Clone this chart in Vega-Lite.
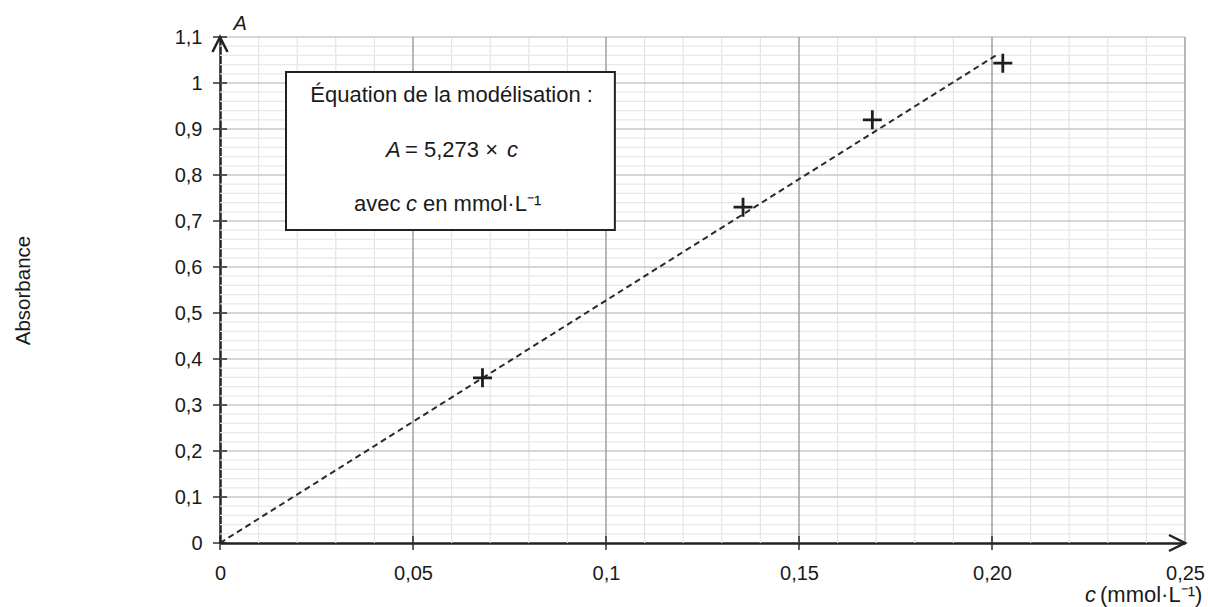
{
  "$schema": "https://vega.github.io/schema/vega-lite/v6.json",
  "width": 965,
  "height": 506,
  "autosize": {"type": "none"},
  "padding": {"left": 220, "top": 37, "right": 23, "bottom": 64},
  "background": "white",
  "config": {"view": {"stroke": null}, "font": "Liberation Sans"},
  "datasets": {
    "minorX": [{"c":0.01},{"c":0.02},{"c":0.03},{"c":0.04},{"c":0.06},{"c":0.07},{"c":0.08},{"c":0.09},{"c":0.11},{"c":0.12},{"c":0.13},{"c":0.14},{"c":0.16},{"c":0.17},{"c":0.18},{"c":0.19},{"c":0.21},{"c":0.22},{"c":0.23},{"c":0.24}],
    "minorY": [{"A":0.02},{"A":0.04},{"A":0.06},{"A":0.08},{"A":0.12},{"A":0.14},{"A":0.16},{"A":0.18},{"A":0.22},{"A":0.24},{"A":0.26},{"A":0.28},{"A":0.32},{"A":0.34},{"A":0.36},{"A":0.38},{"A":0.42},{"A":0.44},{"A":0.46},{"A":0.48},{"A":0.52},{"A":0.54},{"A":0.56},{"A":0.58},{"A":0.62},{"A":0.64},{"A":0.66},{"A":0.68},{"A":0.72},{"A":0.74},{"A":0.76},{"A":0.78},{"A":0.82},{"A":0.84},{"A":0.86},{"A":0.88},{"A":0.92},{"A":0.94},{"A":0.96},{"A":0.98},{"A":1.02},{"A":1.04},{"A":1.06},{"A":1.08}],
    "majorX": [{"c":0.05},{"c":0.1},{"c":0.15},{"c":0.2},{"c":0.25}],
    "majorY": [{"A":0.1},{"A":0.2},{"A":0.3},{"A":0.4},{"A":0.5},{"A":0.6},{"A":0.7},{"A":0.8},{"A":0.9},{"A":1.0},{"A":1.1}],
    "xticks": [{"c":0,"A":0},{"c":0.05,"A":0},{"c":0.1,"A":0},{"c":0.15,"A":0},{"c":0.2,"A":0}],
    "yticks": [{"c":0,"A":0},{"c":0,"A":0.1},{"c":0,"A":0.2},{"c":0,"A":0.3},{"c":0,"A":0.4},{"c":0,"A":0.5},{"c":0,"A":0.6},{"c":0,"A":0.7},{"c":0,"A":0.8},{"c":0,"A":0.9},{"c":0,"A":1.0},{"c":0,"A":1.1}],
    "model": [{"c":0,"A":0},{"c":0.2015,"A":1.0625}],
    "points": [{"c":0.068,"A":0.359},{"c":0.1355,"A":0.730},{"c":0.169,"A":0.920},{"c":0.2028,"A":1.043}],
    "box": [{"c":0.0171,"c2":0.1023,"A":0.6804,"A2":1.0239}],
    "textCenter": [{"c":0.0600,"A":0.9587,"t":"Équation de la modélisation :"}],
    "textNormal": [{"c":0.04793,"A":0.8391,"t":"= 5,273 ×"},{"c":0.03472,"A":0.7217,"t":"avec"},{"c":0.05259,"A":0.7217,"t":"en mmol·L⁻¹"}],
    "textItalic": [{"c":0.0430,"A":0.8391,"t":"A"},{"c":0.07435,"A":0.8391,"t":"c"},{"c":0.04819,"A":0.7217,"t":"c"}],
    "unitNormal": [{"c":0.22798,"A":-0.128,"t":"(mmol·L⁻¹)"}],
    "unitItalic": [{"c":0.22409,"A":-0.128,"t":"c"}],
    "topLabel": [{"c":0.0052,"A":1.128,"t":"A"}],
    "arrowX": [{"c":0.25,"A":0}],
    "arrowY": [{"c":0,"A":1.1}]
  },
  "layer": [
    {
      "data": {"name": "points"},
      "mark": {"type": "point", "shape": "M -1 0 L 1 0 M 0 -1 L 0 1", "filled": false, "stroke": "#1e1e1e", "strokeWidth": 2.8, "size": 361, "opacity": 0},
      "encoding": {
        "x": {"field": "c", "type": "quantitative", "scale": {"domain": [0, 0.25], "nice": false},
          "axis": {"values": [0, 0.05, 0.1, 0.15, 0.2, 0.25], "labelExpr": "datum.value == 0.2 ? '0,20' : replace('' + datum.value, '.', ',')", "title": null, "grid": false, "ticks": false, "tickSize": 0, "labelPadding": 20, "labelFontSize": 20, "labelColor": "#1a1a1a", "labelFont": "Liberation Sans", "domain": true, "domainColor": "#222222", "domainWidth": 2.5, "labelFlush": false, "labelOverlap": false}},
        "y": {"field": "A", "type": "quantitative", "scale": {"domain": [0, 1.1], "nice": false},
          "axis": {"values": [0, 0.1, 0.2, 0.3, 0.4, 0.5, 0.6, 0.7, 0.8, 0.9, 1, 1.1], "labelExpr": "replace('' + datum.value, '.', ',')", "title": "Absorbance", "titleFontSize": 20.5, "titleFontWeight": "normal", "titleColor": "#1a1a1a", "titleFont": "Liberation Sans", "titlePadding": 141, "grid": false, "ticks": false, "tickSize": 0, "labelPadding": 18, "labelFontSize": 20, "labelColor": "#1a1a1a", "labelFont": "Liberation Sans", "domain": true, "domainColor": "#222222", "domainWidth": 2.5, "labelFlush": false, "labelOverlap": false}}
      }
    },
    {
      "data": {"name": "minorX"},
      "mark": {"type": "rule", "color": "#e4e4e4", "strokeWidth": 1.2},
      "encoding": {"x": {"field": "c", "type": "quantitative"}}
    },
    {
      "data": {"name": "minorY"},
      "mark": {"type": "rule", "color": "#e8e8e8", "strokeWidth": 1.2},
      "encoding": {"y": {"field": "A", "type": "quantitative"}}
    },
    {
      "data": {"name": "majorY"},
      "mark": {"type": "rule", "color": "#c8c8c8", "strokeWidth": 1.5},
      "encoding": {"y": {"field": "A", "type": "quantitative"}}
    },
    {
      "data": {"name": "majorX"},
      "mark": {"type": "rule", "color": "#a0a0a0", "strokeWidth": 1.5},
      "encoding": {"x": {"field": "c", "type": "quantitative"}}
    },
    {
      "data": {"name": "box"},
      "mark": {"type": "rect", "fill": "white", "stroke": "#222222", "strokeWidth": 2},
      "encoding": {
        "x": {"field": "c", "type": "quantitative"},
        "x2": {"field": "c2"},
        "y": {"field": "A", "type": "quantitative"},
        "y2": {"field": "A2"}
      }
    },
    {
      "data": {"name": "textCenter"},
      "mark": {"type": "text", "align": "center", "baseline": "alphabetic", "fontSize": 22, "color": "#1a1a1a"},
      "encoding": {
        "x": {"field": "c", "type": "quantitative"},
        "y": {"field": "A", "type": "quantitative"},
        "text": {"field": "t"}
      }
    },
    {
      "data": {"name": "textNormal"},
      "mark": {"type": "text", "align": "left", "baseline": "alphabetic", "fontSize": 22, "color": "#1a1a1a"},
      "encoding": {
        "x": {"field": "c", "type": "quantitative"},
        "y": {"field": "A", "type": "quantitative"},
        "text": {"field": "t"}
      }
    },
    {
      "data": {"name": "textItalic"},
      "mark": {"type": "text", "align": "left", "baseline": "alphabetic", "fontSize": 22, "fontStyle": "italic", "color": "#1a1a1a"},
      "encoding": {
        "x": {"field": "c", "type": "quantitative"},
        "y": {"field": "A", "type": "quantitative"},
        "text": {"field": "t"}
      }
    },
    {
      "data": {"name": "unitNormal"},
      "mark": {"type": "text", "align": "left", "baseline": "alphabetic", "fontSize": 22, "color": "#1a1a1a"},
      "encoding": {
        "x": {"field": "c", "type": "quantitative"},
        "y": {"field": "A", "type": "quantitative"},
        "text": {"field": "t"}
      }
    },
    {
      "data": {"name": "unitItalic"},
      "mark": {"type": "text", "align": "left", "baseline": "alphabetic", "fontSize": 22, "fontStyle": "italic", "color": "#1a1a1a"},
      "encoding": {
        "x": {"field": "c", "type": "quantitative"},
        "y": {"field": "A", "type": "quantitative"},
        "text": {"field": "t"}
      }
    },
    {
      "data": {"name": "topLabel"},
      "mark": {"type": "text", "align": "center", "baseline": "middle", "fontSize": 20, "fontStyle": "italic", "color": "#1a1a1a"},
      "encoding": {
        "x": {"field": "c", "type": "quantitative"},
        "y": {"field": "A", "type": "quantitative"},
        "text": {"field": "t"}
      }
    },
    {
      "data": {"name": "model"},
      "mark": {"type": "line", "color": "#2a2a2a", "strokeWidth": 2, "strokeDash": [6, 4]},
      "encoding": {
        "x": {"field": "c", "type": "quantitative"},
        "y": {"field": "A", "type": "quantitative"}
      }
    },
    {
      "data": {"name": "points"},
      "mark": {"type": "point", "shape": "M -1 0 L 1 0 M 0 -1 L 0 1", "filled": false, "stroke": "#1e1e1e", "strokeWidth": 2.8, "size": 361, "opacity": 1},
      "encoding": {
        "x": {"field": "c", "type": "quantitative"},
        "y": {"field": "A", "type": "quantitative"}
      }
    },
    {
      "data": {"name": "xticks"},
      "mark": {"type": "tick", "orient": "vertical", "color": "#222222", "thickness": 2, "size": 14},
      "encoding": {
        "x": {"field": "c", "type": "quantitative"},
        "y": {"field": "A", "type": "quantitative"}
      }
    },
    {
      "data": {"name": "yticks"},
      "mark": {"type": "tick", "orient": "horizontal", "color": "#222222", "thickness": 2, "size": 14},
      "encoding": {
        "x": {"field": "c", "type": "quantitative"},
        "y": {"field": "A", "type": "quantitative"}
      }
    },
    {
      "data": {"name": "arrowX"},
      "mark": {"type": "point", "shape": "M -1 -0.5 L 0 0 L -1 0.5", "filled": false, "stroke": "#222222", "strokeWidth": 2.5, "size": 1024, "opacity": 1},
      "encoding": {
        "x": {"field": "c", "type": "quantitative"},
        "y": {"field": "A", "type": "quantitative"}
      }
    },
    {
      "data": {"name": "arrowY"},
      "mark": {"type": "point", "shape": "M -0.5 1 L 0 0 L 0.5 1", "filled": false, "stroke": "#222222", "strokeWidth": 2.5, "size": 900, "opacity": 1},
      "encoding": {
        "x": {"field": "c", "type": "quantitative"},
        "y": {"field": "A", "type": "quantitative"}
      }
    }
  ]
}
